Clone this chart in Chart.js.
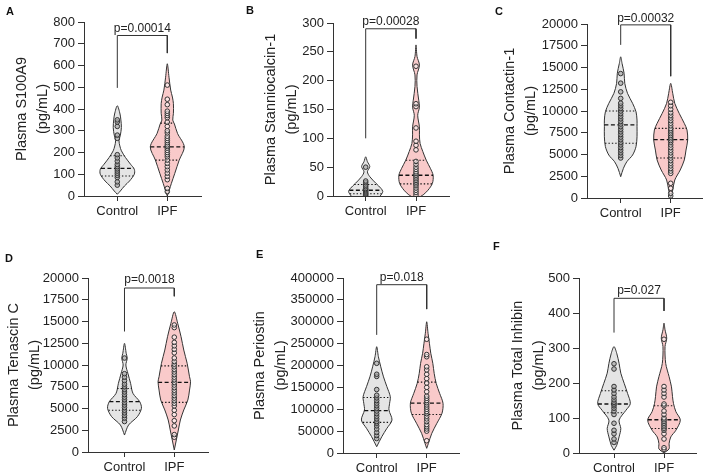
<!DOCTYPE html>
<html><head><meta charset="utf-8">
<script src="https://cdn.jsdelivr.net/npm/chart.js@4/dist/chart.umd.min.js"></script>
<style>
html,body{margin:0;padding:0;background:#fff;width:708px;height:476px;overflow:hidden;position:relative;font-family:"Liberation Sans",Arial,sans-serif;}
canvas{position:absolute;}
.lbl{position:absolute;font-weight:bold;font-size:11px;line-height:1;color:#111;}
</style></head><body>
<script>
// ---------- DATA ----------
const groups = ['Control', 'IPF'];
const panelLetters = ['A', 'B', 'C', 'D', 'E', 'F'];
const yTitles = [
  ['Plasma S100A9', '(pg/mL)'],
  ['Plasma Stanniocalcin-1', '(pg/mL)'],
  ['Plasma Contactin-1', '(pg/mL)'],
  ['Plasma Tenascin C', '(pg/mL)'],
  ['Plasma Periostin', '(pg/mL)'],
  ['Plasma Total Inhibin', '(pg/mL)']
];
const yMax = [800, 300, 20000, 20000, 400000, 500];
const yStep = [100, 50, 2500, 2500, 50000, 100];
const pValues = ['p=0.00014', 'p=0.00028', 'p=0.00032', 'p=0.0018', 'p=0.018', 'p=0.027'];
// bracket: [Control leg bottom, bracket top, IPF leg bottom, p-label level]
const bracketA = [497, 738, 657, 769];
const bracketB = [100, 290, 273, 303];
const bracketC = [17600, 19900, 14000, 20650];
const bracketD = [13850, 18850, 17900, 19800];
const bracketE = [270000, 384700, 328900, 401500];
const bracketF = [344, 442, 406, 464];

// individual values
const pointsA_Control = [50, 65, 85, 95, 105, 115, 125, 135, 145, 160, 175, 190, 265, 280, 320, 340, 350];
const pointsA_IPF = [20, 35, 75, 90, 105, 120, 135, 150, 165, 180, 190, 200, 210, 220, 228, 235, 245, 255, 265, 275, 290, 300, 320, 340, 360, 370, 380, 390, 420, 445, 510];
const pointsB_Control = [1, 3, 5, 7, 9, 11, 13, 16, 19, 23, 26, 50];
const pointsB_IPF = [2, 6, 10, 14, 18, 21, 24, 27, 30, 33, 36, 39, 42, 46, 50, 55, 60, 80, 88, 95, 118, 155, 160, 225];
const pointsC_Control = [4600, 4900, 5200, 5500, 5800, 6100, 6400, 6700, 7000, 7300, 7600, 7900, 8200, 8500, 8800, 9100, 9400, 9700, 10000, 10300, 10600, 10900, 11450, 12200, 13200, 14300];
const pointsC_IPF = [230, 540, 1120, 1690, 2830, 3100, 3400, 3700, 4000, 4300, 4600, 4900, 5200, 5500, 5800, 6100, 6400, 6600, 6800, 7000, 7200, 7400, 7600, 7800, 8000, 8300, 8600, 8900, 9200, 9500, 9800, 10200, 10600, 11000];
const pointsD_Control = [3500, 3900, 4200, 4500, 4800, 5100, 5400, 5700, 6000, 6300, 6600, 6900, 7200, 7500, 7800, 8200, 8600, 9000, 10800];
const pointsD_IPF = [1700, 2000, 3000, 3600, 4300, 4800, 5300, 5600, 5900, 6200, 6500, 6800, 7100, 7400, 7700, 8000, 8300, 8600, 8900, 9200, 9500, 9800, 10100, 10400, 10800, 11400, 11800, 12200, 12600, 13200, 14300, 14600];
const pointsE_Control = [33000, 40000, 47000, 55000, 62000, 68000, 72000, 78000, 84000, 90000, 96000, 102000, 108000, 114000, 120000, 126000, 132000, 145000, 175000, 180000, 205000];
const pointsE_IPF = [28000, 50000, 55000, 60000, 65000, 72000, 78000, 84000, 90000, 95000, 100000, 105000, 110000, 115000, 120000, 125000, 130000, 140000, 150000, 160000, 170000, 180000, 190000, 197000, 220000, 225000, 260000];
const pointsF_Control = [30, 40, 55, 65, 85, 110, 120, 128, 135, 140, 145, 152, 160, 170, 180, 190, 240, 255];
const pointsF_IPF = [10, 15, 40, 55, 65, 70, 75, 80, 85, 90, 95, 100, 110, 120, 135, 140, 160, 170, 180, 190, 325];

// quartiles [Q1, median, Q3]
const quartA_Control = [92, 127, 185];
const quartA_IPF = [165, 226, 335];
const quartB_Control = [4, 10, 20];
const quartB_IPF = [21, 36, 62];
const quartC_Control = [6300, 8400, 10000];
const quartC_IPF = [4600, 6700, 8000];
const quartD_Control = [4800, 5800, 7300];
const quartD_IPF = [5700, 8000, 9900];
const quartE_Control = [70000, 97000, 127000];
const quartE_IPF = [88000, 114000, 162000];
const quartF_Control = [115, 140, 178];
const quartF_IPF = [70, 95, 135];

// violin outlines: [value, relative density]
const violinA_Control = [[8,0],[23,.18],[46,.42],[69,.72],[100,1],[123,1],[146,.78],[177,.48],[208,.24],[230,.15],[254,.1],[280,.18],[315,.24],[350,.21],[377,.16],[415,0]];
const violinA_IPF = [[0,0],[28,.12],[58,.24],[104,.44],[165,.7],[226,1],[288,.6],[331,.42],[349,.32],[380,.36],[425,.36],[455,.3],[487,.2],[546,.1],[608,0]];
const violinB_Control = [[0,.85],[7.5,1],[13,.9],[22,.6],[33.5,.24],[42,.1],[51,.24],[59.5,.1],[68,0]];
const violinB_IPF = [[0,.3],[2,.42],[10,.7],[22,.96],[36,1],[48,.84],[62,.6],[77,.4],[91,.24],[106,.2],[120,.2],[140,.1],[154,.2],[166,.16],[190,.06],[210,.06],[227,.2],[242,.06],[262,0]];
const violinC_Control = [[2450,0],[3410,.16],[4170,.36],[4940,.7],[5900,.9],[7040,.96],[8190,.96],[8960,.96],[9920,.9],[10880,.7],[12030,.4],[13180,.24],[14330,.2],[15470,.08],[16230,0]];
const violinC_IPF = [[0,0],[920,.12],[2070,.24],[3220,.56],[4370,.8],[5510,.9],[6660,1],[7810,.96],[8580,.8],[9730,.5],[10880,.24],[12030,.12],[13180,0]];
const violinD_Control = [[1950,0],[3100,.24],[4060,.76],[5020,1],[5780,.9],[6740,.5],[7890,.36],[9040,.2],[10000,.08],[10770,.16],[11340,.1],[12490,0]];
const violinD_IPF = [[230,0],[1380,.12],[2530,.24],[3680,.36],[4830,.56],[5970,.8],[7120,.9],[8080,.96],[8650,.9],[10190,.76],[11720,.56],[13250,.4],[14790,.2],[16120,0]];
const violinE_Control = [[14400,0],[37300,.3],[56400,.6],[75400,.9],[98300,.72],[113600,.76],[128700,.8],[151600,.6],[174000,.4],[197000,.24],[220000,.1],[243000,0]];
const violinE_IPF = [[10700,0],[22000,.1],[45000,.3],[68000,.6],[90800,.9],[113600,.96],[136400,.76],[159000,.56],[182000,.44],[205000,.36],[228000,.24],[250800,.16],[273600,.08],[300000,0]];
const violinF_Control = [[8,0],[22,.16],[46,.3],[70,.4],[94,.3],[122,.7],[141,.96],[170,.8],[199,.6],[228,.4],[256,.3],[285,.16],[304,0]];
const violinF_IPF = [[0,0],[12,.3],[27,.3],[46,.4],[65,.7],[94,.96],[118,.7],[141,.56],[161,.5],[189,.44],[218,.3],[256,.1],[304,.06],[328,.16],[352,.06],[371,0]];

// ---------- LAYOUT ----------
const layout = [
  {cl:0,   ct:0,   yw:84,  padR:35, padT:22, h:220, xmin:-0.666, xmax:1.674, tpad:11},
  {cl:236, ct:0,   yw:97,  padR:23, padT:23, h:220, xmin:-0.65,  xmax:1.656, tpad:24.5},
  {cl:472, ct:0,   yw:115, padR:6,  padT:24, h:222, xmin:-0.674, xmax:1.626, tpad:27},
  {cl:0,   ct:230, yw:88,  padR:28, padT:48, h:246, xmin:-0.733, xmax:1.677, tpad:3.5},
  {cl:236, ct:230, yw:107, padR:13, padT:48, h:247, xmin:-0.674, xmax:1.646, tpad:13.5},
  {cl:472, ct:230, yw:107, padR:12, padT:48, h:247, xmin:-0.7,   xmax:1.64,  tpad:35.5}
];
const letterPos = [[6,6],[246,5],[495,6],[5,253],[256,249],[493,241]];

const panels = [
  {pts:[pointsA_Control, pointsA_IPF], q:[quartA_Control, quartA_IPF], v:[violinA_Control, violinA_IPF], br:bracketA},
  {pts:[pointsB_Control, pointsB_IPF], q:[quartB_Control, quartB_IPF], v:[violinB_Control, violinB_IPF], br:bracketB},
  {pts:[pointsC_Control, pointsC_IPF], q:[quartC_Control, quartC_IPF], v:[violinC_Control, violinC_IPF], br:bracketC},
  {pts:[pointsD_Control, pointsD_IPF], q:[quartD_Control, quartD_IPF], v:[violinD_Control, violinD_IPF], br:bracketD},
  {pts:[pointsE_Control, pointsE_IPF], q:[quartE_Control, quartE_IPF], v:[violinE_Control, violinE_IPF], br:bracketE},
  {pts:[pointsF_Control, pointsF_IPF], q:[quartF_Control, quartF_IPF], v:[violinF_Control, violinF_IPF], br:bracketF}
];

const W = 0.34;
const FONT = '"Liberation Sans", Arial, Helvetica, sans-serif';
const fills = ['#e5e5e5', '#f9caca'];
const LINE = '#333';

function densAt(vio, val) {
  if (val <= vio[0][0]) return vio[0][1];
  for (let i = 1; i < vio.length; i++) {
    if (val <= vio[i][0]) {
      const [v0, d0] = vio[i-1], [v1, d1] = vio[i];
      return d0 + (d1 - d0) * (val - v0) / (v1 - v0);
    }
  }
  return vio[vio.length-1][1];
}

function outline(vio, c) {
  const right = vio.map(([v, d]) => ({x: c + W * d, y: v}));
  const left = vio.slice().reverse().map(([v, d]) => ({x: c - W * d, y: v}));
  const all = right.concat(left);
  const out = [];
  all.forEach(p => {
    const last = out[out.length-1];
    if (!last || last.x !== p.x || last.y !== p.y) out.push(p);
  });
  return out;
}

const pTextPlugin = {
  id: 'ptext',
  afterDatasetsDraw(chart, args, opts) {
    const {ctx} = chart;
    const x = chart.scales.x, y = chart.scales.y;
    ctx.save();
    ctx.font = '12px ' + FONT;
    ctx.fillStyle = '#222';
    ctx.textAlign = 'center';
    ctx.textBaseline = 'middle';
    ctx.fillText(opts.text, x.getPixelForValue(0.5), y.getPixelForValue(opts.yv));
    ctx.restore();
  }
};

panels.forEach((p, i) => {
  const L = layout[i];
  const cv = document.createElement('canvas');
  cv.width = 236; cv.height = L.h;
  cv.style.left = L.cl + 'px'; cv.style.top = L.ct + 'px';
  cv.style.width = '236px'; cv.style.height = L.h + 'px';
  document.body.appendChild(cv);

  const lb = document.createElement('div');
  lb.className = 'lbl';
  lb.textContent = panelLetters[i];
  lb.style.left = letterPos[i][0] + 'px'; lb.style.top = letterPos[i][1] + 'px';
  document.body.appendChild(lb);

  const datasets = [];
  [0, 1].forEach(g => {
    datasets.push({
      data: p.pts[g].map(v => ({x: g, y: v})),
      showLine: false, pointRadius: 2.3, pointBorderWidth: 1,
      pointBorderColor: '#333', pointBackgroundColor: g === 0 ? 'rgba(170,170,170,0.7)' : 'rgba(255,255,255,0.5)',
      order: 0
    });
    p.q[g].forEach((qv, k) => {
      const d = densAt(p.v[g], qv) * W;
      datasets.push({
        data: [{x: g - d, y: qv}, {x: g + d, y: qv}],
        borderColor: '#111', borderWidth: k === 1 ? 1.3 : 1.1,
        borderDash: k === 1 ? [4, 2.5] : [1.4, 2],
        pointRadius: 0, fill: false, order: 1
      });
    });
    datasets.push({
      data: outline(p.v[g], g),
      borderColor: LINE, borderWidth: 1, backgroundColor: fills[g],
      fill: 'shape', pointRadius: 0, tension: 0.3, order: 2
    });
  });
  const br = p.br;
  datasets.push({
    data: [{x: 0, y: br[0]}, {x: 0, y: br[1]}, {x: 1, y: br[1]}, {x: 1, y: br[2]}],
    borderColor: LINE, borderWidth: 1, pointRadius: 0, fill: false, tension: 0, order: 3, clip: false
  });

  new Chart(cv, {
    type: 'line',
    data: {datasets},
    plugins: [pTextPlugin],
    options: {
      responsive: false, animation: false, devicePixelRatio: 1,
      layout: {padding: {left: 0, right: L.padR, top: L.padT, bottom: 0}},
      plugins: {legend: {display: false}, tooltip: {enabled: false},
        ptext: {text: pValues[i], yv: br[3]}},
      scales: {
        x: {
          type: 'linear', min: L.xmin, max: L.xmax,
          afterBuildTicks: s => { s.ticks = [{value: 0}, {value: 1}]; },
          afterFit: s => { s.height = 24; },
          ticks: {callback: v => groups[v], autoSkip: false, maxRotation: 0, padding: 3,
            color: '#222', font: {family: FONT, size: 13}},
          grid: {drawOnChartArea: false, drawTicks: true, tickLength: 5, color: LINE},
          border: {display: true, color: LINE, width: 1}
        },
        y: {
          type: 'linear', min: 0, max: yMax[i],
          afterFit: s => { s.width = L.yw; },
          ticks: {stepSize: yStep[i], callback: v => String(v), padding: 3,
            color: '#222', font: {family: FONT, size: 13}},
          grid: {drawOnChartArea: false, drawTicks: true, tickLength: 6, color: LINE},
          border: {display: true, color: LINE, width: 1},
          title: {display: true, text: yTitles[i], color: '#222',
            font: {family: FONT, size: 14.5, lineHeight: 1.45}, padding: {top: L.tpad, bottom: 0}}
        }
      }
    }
  });
});
</script>
</body></html>
